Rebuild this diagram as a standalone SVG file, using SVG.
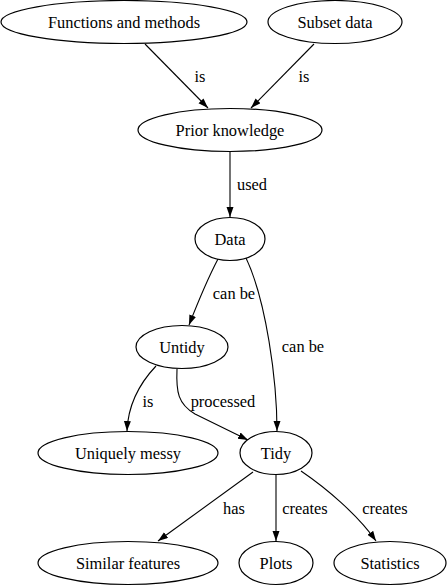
<svg xmlns="http://www.w3.org/2000/svg" width="448" height="586" viewBox="0 0 448 586">
<style>
.n ellipse{fill:#fff;stroke:#000;stroke-width:1.2}
text{font-family:"Liberation Serif","Times New Roman","DejaVu Serif",serif;font-size:16.4px;fill:#000;text-anchor:middle}
.e path{fill:none;stroke:#000;stroke-width:1.1;marker-end:url(#ah)}
</style>
<defs>
<marker id="ah" markerUnits="userSpaceOnUse" markerWidth="11" markerHeight="8" refX="10" refY="3.5" orient="auto">
<path d="M0,0 L10,3.5 L0,7 z" fill="#000"/>
</marker>
</defs>
<rect width="448" height="586" fill="#fff"/>
<g id="edges" class="e">
<path d="M145,44 L208,108"/>
<path d="M314,44 L251,108"/>
<path d="M230,152 L230,217"/>
<path d="M218,259 C208,278 198,302 189,325"/>
<path d="M246,258 C266,300 277,380 277,431"/>
<path d="M156,366 C138,385 128,405 127,431"/>
<path d="M177,369 C176,392 178,404 195,414 L248,440"/>
<path d="M253,472 L158,541"/>
<path d="M276,475 L276,541"/>
<path d="M301,471 C326,488 358,515 376,541"/>
</g>
<g id="labels">
<text x="200" y="82">is</text>
<text x="304" y="82">is</text>
<text x="252" y="190">used</text>
<text x="234" y="299">can be</text>
<text x="303" y="352">can be</text>
<text x="148" y="407">is</text>
<text x="223" y="407">processed</text>
<text x="234" y="514">has</text>
<text x="305" y="514">creates</text>
<text x="385" y="514">creates</text>
</g>
<g id="n_functions" class="n"><ellipse cx="124" cy="22" rx="123" ry="21.5"/><text x="124" y="27.5">Functions and methods</text></g>
<g id="n_subset" class="n"><ellipse cx="335" cy="22" rx="67" ry="21.5"/><text x="335" y="27.5">Subset data</text></g>
<g id="n_prior" class="n"><ellipse cx="230" cy="130" rx="92" ry="21.5"/><text x="230" y="135.5">Prior knowledge</text></g>
<g id="n_data" class="n"><ellipse cx="230" cy="239" rx="35" ry="21.5"/><text x="230" y="244.5">Data</text></g>
<g id="n_untidy" class="n"><ellipse cx="182" cy="347" rx="46" ry="21.5"/><text x="182" y="352.5">Untidy</text></g>
<g id="n_tidy" class="n"><ellipse cx="276" cy="453" rx="36" ry="21.5"/><text x="276" y="458.5">Tidy</text></g>
<g id="n_messy" class="n"><ellipse cx="128" cy="453" rx="90" ry="21.5"/><text x="128" y="458.5">Uniquely messy</text></g>
<g id="n_similar" class="n"><ellipse cx="128" cy="563" rx="90" ry="21.5"/><text x="128" y="568.5">Similar features</text></g>
<g id="n_plots" class="n"><ellipse cx="276" cy="563" rx="37" ry="21.5"/><text x="276" y="568.5">Plots</text></g>
<g id="n_stats" class="n"><ellipse cx="390" cy="563" rx="56" ry="21.5"/><text x="390" y="568.5">Statistics</text></g>
</svg>
